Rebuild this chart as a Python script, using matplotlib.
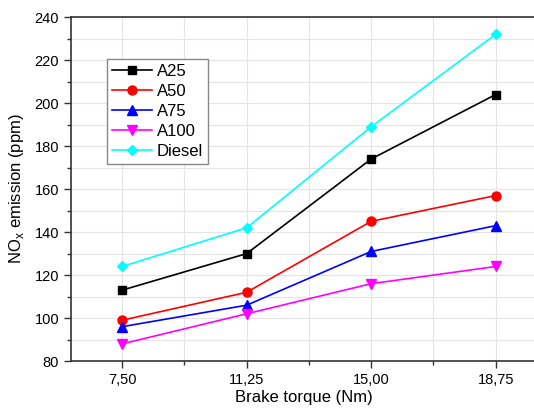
import matplotlib
matplotlib.use("Agg")
import matplotlib.pyplot as plt
from matplotlib.ticker import MultipleLocator, FixedLocator

plt.rcParams['font.family'] = ['Liberation Sans', 'DejaVu Sans']

torque = [7.50, 11.25, 15.00, 18.75]
tick_labels = ["7,50", "11,25", "15,00", "18,75"]

a25 = [113, 130, 174, 204]
a50 = [99, 112, 145, 157]
a75 = [96, 106, 131, 143]
a100 = [88, 102, 116, 124]
diesel = [124, 142, 189, 232]

series = [
    ("A25", a25, "black", "s", 6),
    ("A50", a50, "red", "o", 6.5),
    ("A75", a75, "blue", "^", 6.5),
    ("A100", a100, "magenta", "v", 6.5),
    ("Diesel", diesel, "cyan", "D", 5.5),
]

fig = plt.figure(figsize=(5.34, 4.08), dpi=100)
ax = fig.add_axes([0.133, 0.115, 0.873, 0.843])

for name, vals, color, marker, ms in series:
    ax.plot(torque, vals, color=color, marker=marker, markersize=ms,
            linewidth=1.2, label=name)

ax.set_xlim(5.96, 20.0)
ax.set_ylim(80, 240)
ax.xaxis.set_major_locator(FixedLocator(torque))
ax.set_xticklabels(tick_labels)
ax.xaxis.set_minor_locator(FixedLocator([9.375, 13.125, 16.875]))
ax.yaxis.set_major_locator(MultipleLocator(20))
ax.yaxis.set_minor_locator(MultipleLocator(10))

ax.grid(True, which="both", color="#e4e4e4", linewidth=0.8)
ax.set_axisbelow(True)

ax.tick_params(axis="both", which="major", direction="out", length=5, width=1,
               labelsize=10.5, color="#333333")
ax.tick_params(axis="both", which="minor", direction="out", length=3, width=1, color="#333333")
for s in ax.spines.values():
    s.set_linewidth(1.2)
    s.set_color("#333333")
ax.spines["right"].set_visible(False)

ax.set_xlabel("Brake torque (Nm)", fontsize=12, labelpad=2)
ax.set_ylabel(r"NO$_\mathregular{x}$ emission (ppm)", fontsize=12, labelpad=6)

leg = ax.legend(loc="upper left", bbox_to_anchor=(0.077, 0.878), borderaxespad=0,
                fontsize=12, fancybox=False, framealpha=1, edgecolor="#888888",
                handlelength=2.4, handletextpad=0.3, labelspacing=0.3, borderpad=0.3)
leg.get_frame().set_linewidth(1)

fig.savefig("out.png", dpi=100)
